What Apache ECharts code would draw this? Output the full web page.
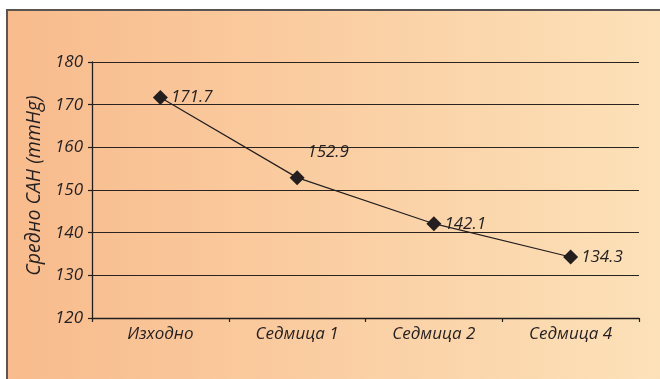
<!DOCTYPE html>
<html>
<head>
<meta charset="utf-8">
<script src="https://cdn.jsdelivr.net/npm/echarts@6/dist/echarts.min.js"></script>
<style>
  html, body { margin: 0; padding: 0; background: #ffffff; }
  #chart { width: 660px; height: 379px; }
</style>
</head>
<body>
<div id="chart"></div>
<script>
// Mean systolic blood pressure over follow-up visits
const categories = ['Изходно', 'Седмица 1', 'Седмица 2', 'Седмица 4'];
const meanSBP = [171.7, 152.9, 142.1, 134.3];
const yTicks = { min: 120, max: 180, interval: 10 };
const yAxisTitle = 'Средно САН (mmHg)';

const textColor = '#231f20';
const fontFamily = '"Open Sans", "Noto Sans", sans-serif';

const chart = echarts.init(document.getElementById('chart'));

const seriesData = meanSBP.map((v, i) => {
  const item = { value: v };
  if (i === 1) {
    item.label = { position: 'top', offset: [31, -6] };
  }
  return item;
});

chart.setOption({
  animation: false,
  graphic: [{
    type: 'rect',
    z: -10,
    shape: { x: 7, y: 10, width: 700, height: 420 },
    style: {
      fill: new echarts.graphic.LinearGradient(0, 0, 1, 0, [
        { offset: 0, color: '#f8bb8c' },
        { offset: 1, color: '#fde4bc' }
      ]),
      stroke: '#5a5552',
      lineWidth: 2
    }
  }],
  grid: { left: 92, top: 62, right: 21, bottom: 61, containLabel: false },
  xAxis: {
    type: 'category',
    data: categories,
    boundaryGap: true,
    axisLine: { lineStyle: { color: '#231f20', width: 1.3 } },
    axisTick: { show: true, length: 4, alignWithLabel: false, lineStyle: { color: '#231f20', width: 1.2 } },
    axisLabel: {
      color: textColor, fontFamily, fontStyle: 'italic', fontSize: 17, margin: 8
    },
    splitLine: { show: false }
  },
  yAxis: {
    type: 'value',
    min: yTicks.min, max: yTicks.max, interval: yTicks.interval,
    name: yAxisTitle,
    nameLocation: 'middle',
    nameGap: 37,
    nameTextStyle: { color: textColor, fontFamily, fontStyle: 'italic', fontSize: 19.5, padding: [0, 0, 0, 9] },
    axisLine: { show: true, lineStyle: { color: '#231f20', width: 1.3 } },
    axisTick: { show: true, length: 4, lineStyle: { color: '#231f20', width: 1.2 } },
    axisLabel: {
      color: textColor, fontFamily, fontStyle: 'italic', fontSize: 17, margin: 9
    },
    splitLine: { show: true, lineStyle: { color: '#2a2320', width: 1.2 } }
  },
  series: [{
    type: 'line',
    data: seriesData,
    symbol: 'diamond',
    symbolSize: 15,
    lineStyle: { color: '#231f20', width: 1.2 },
    itemStyle: { color: '#231f20' },
    label: {
      show: true,
      position: 'right',
      distance: 3,
      color: textColor,
      fontFamily,
      fontStyle: 'italic',
      fontSize: 17,
      formatter: p => p.value.toFixed(1)
    }
  }]
});
</script>
</body>
</html>
